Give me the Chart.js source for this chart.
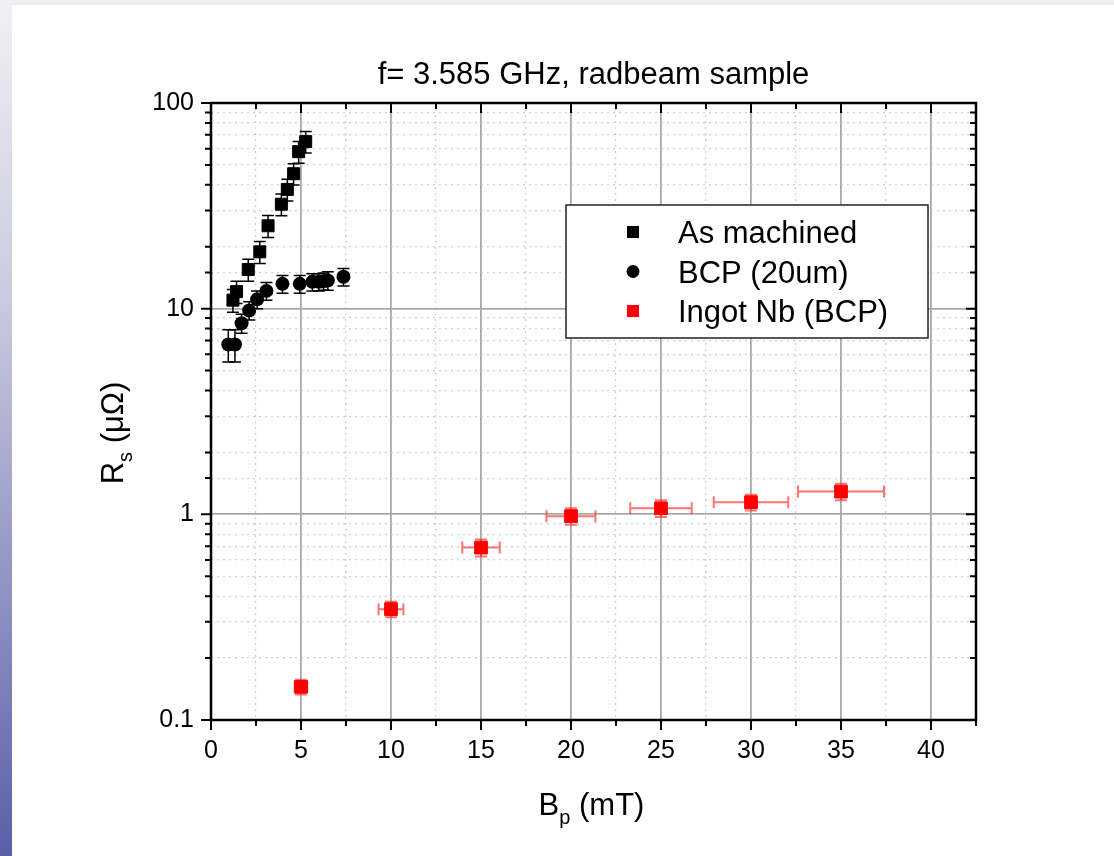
<!DOCTYPE html>
<html lang="en">
<head>
    <meta charset="UTF-8">
    <meta name="viewport" content="width=device-width, initial-scale=1.0">
    <title>Rs vs Bp, radbeam sample</title>
    <script src="https://cdn.jsdelivr.net/npm/chart.js"></script>
    <style>
        html, body { margin: 0; padding: 0; background: #fff; }
        body { width: 1114px; height: 856px; position: relative; overflow: hidden; }
        #topBand { position: absolute; left: 0; top: 0; width: 1114px; height: 5px; background: #eeeff3; }
        #sideBand { position: absolute; left: 0; top: 0; width: 12px; height: 856px;
            background: linear-gradient(to bottom, #f0f0f4 0%, #c9cadf 35%, #5a5fa9 100%); }
        #rsChart { position: absolute; left: 0; top: 0; }
    </style>
</head>
<body>
    <div id="topBand"></div>
    <div id="sideBand"></div>
    <canvas id="rsChart" width="1114" height="856"></canvas>

    <script>
        // values
        const asMachinedX = [1.22, 1.42, 2.07, 2.71, 3.17, 3.91, 4.24, 4.59, 4.87, 5.26];
        const asMachinedY = [11.0, 12.1, 15.5, 18.9, 25.3, 32.2, 38.0, 45.3, 58.0, 64.9];
        const asMachinedYErr = [1.4, 1.5, 1.9, 2.3, 3.1, 3.9, 4.6, 5.4, 7.0, 7.8];

        const bcpX = [0.96, 1.33, 1.70, 2.12, 2.56, 3.08, 3.97, 4.93, 5.63, 5.99, 6.25, 6.49, 7.36];
        const bcpY = [6.7, 6.7, 8.5, 9.8, 11.1, 12.2, 13.2, 13.2, 13.5, 13.5, 13.6, 13.7, 14.3];
        const bcpYErr = [1.2, 1.2, 0.9, 1.0, 1.1, 1.2, 1.3, 1.3, 1.3, 1.3, 1.3, 1.4, 1.4];

        const ingotX = [5, 10, 15, 20, 25, 30, 35];
        const ingotY = [0.145, 0.346, 0.689, 0.98, 1.07, 1.145, 1.29];
        const ingotXErr = [0.35, 0.69, 1.04, 1.36, 1.71, 2.07, 2.39];
        const ingotYErr = [0.012, 0.03, 0.065, 0.09, 0.1, 0.1, 0.12];

        const seriesNames = ['As machined', 'BCP (20um)', 'Ingot Nb (BCP)'];
        const xTickLabels = [0, 5, 10, 15, 20, 25, 30, 35, 40];
        const yTickValues = [0.1, 1, 10, 100];
        const yTickLabels = ['0.1', '1', '10', '100'];

        const FONT = "'Liberation Sans', Arial, sans-serif";

        const isMajorX = v => Math.abs(v / 5 - Math.round(v / 5)) < 1e-9;
        const isMajorY = v => { const l = Math.log10(v); return Math.abs(l - Math.round(l)) < 1e-9; };

        const toPoints = (xs, ys) => xs.map((x, i) => ({ x: x, y: ys[i] }));

        // error bars, drawn behind the markers
        const errorBars = {
            id: 'errorBars',
            beforeDatasetsDraw(chart) {
                const { ctx, scales: { x, y } } = chart;
                chart.data.datasets.forEach(ds => {
                    ctx.save();
                    ctx.strokeStyle = ds.errColor;
                    ctx.lineWidth = ds.errWidth;
                    ds.data.forEach((p, i) => {
                        const px = x.getPixelForValue(p.x);
                        const py = y.getPixelForValue(p.y);
                        ctx.beginPath();
                        if (ds.yErr) {
                            const e = ds.yErr[i];
                            const y1 = y.getPixelForValue(p.y - e), y2 = y.getPixelForValue(p.y + e);
                            ctx.moveTo(px, y1); ctx.lineTo(px, y2);
                            ctx.moveTo(px - 6, y1); ctx.lineTo(px + 6, y1);
                            ctx.moveTo(px - 6, y2); ctx.lineTo(px + 6, y2);
                        }
                        if (ds.xErr) {
                            const e = ds.xErr[i];
                            const x1 = x.getPixelForValue(p.x - e), x2 = x.getPixelForValue(p.x + e);
                            ctx.moveTo(x1, py); ctx.lineTo(x2, py);
                            ctx.moveTo(x1, py - 6); ctx.lineTo(x1, py + 6);
                            ctx.moveTo(x2, py - 6); ctx.lineTo(x2, py + 6);
                        }
                        ctx.stroke();
                    });
                    ctx.restore();
                });
            }
        };

        // frame on all four sides with Origin style ticks
        const frameTicks = {
            id: 'frameTicks',
            afterDatasetsDraw(chart) {
                const { ctx, chartArea: a, scales: { x, y } } = chart;
                ctx.save();
                ctx.strokeStyle = '#000';
                ctx.lineWidth = 2;
                ctx.beginPath();
                x.ticks.forEach(t => {
                    const px = x.getPixelForValue(t.value);
                    const len = isMajorX(t.value) ? 10 : 6;
                    ctx.moveTo(px, a.bottom); ctx.lineTo(px, a.bottom + len);
                    ctx.moveTo(px, a.top); ctx.lineTo(px, a.top + len);
                });
                y.ticks.forEach(t => {
                    const py = y.getPixelForValue(t.value);
                    const len = isMajorY(t.value) ? 10 : 6;
                    ctx.moveTo(a.left - len, py); ctx.lineTo(a.left, py);
                    ctx.moveTo(a.right - len, py); ctx.lineTo(a.right, py);
                });
                ctx.stroke();
                ctx.lineWidth = 2.5;
                ctx.strokeRect(a.left, a.top, a.right - a.left, a.bottom - a.top);
                ctx.restore();
            }
        };

        // axis titles with subscripts
        const axisTitles = {
            id: 'axisTitles',
            afterDraw(chart) {
                const { ctx, chartArea: a } = chart;
                const parts = [['B', 31, 0], ['p', 20, 9], [' (mT)', 31, 0]];
                const partsY = [['R', 31, 0], ['s', 20, 9], [' (\u03bc\u03a9)', 31, 0]];
                const drawParts = (list, cx, baseY) => {
                    let w = 0;
                    list.forEach(p => { ctx.font = p[1] + 'px ' + FONT; w += ctx.measureText(p[0]).width; });
                    let cur = cx - w / 2;
                    list.forEach(p => {
                        ctx.font = p[1] + 'px ' + FONT;
                        ctx.fillText(p[0], cur, baseY + p[2]);
                        cur += ctx.measureText(p[0]).width;
                    });
                };
                ctx.save();
                ctx.fillStyle = '#000';
                ctx.textBaseline = 'alphabetic';
                ctx.textAlign = 'left';
                drawParts(parts, (a.left + a.right) / 2 - 2, 815);
                ctx.translate(123, 433);
                ctx.rotate(-Math.PI / 2);
                drawParts(partsY, 0, 0);
                ctx.restore();
            }
        };

        // legend box inside the plot
        const boxLegend = {
            id: 'boxLegend',
            afterDraw(chart) {
                const ctx = chart.ctx;
                const bx = 566, by = 205, bw = 362, bh = 133;
                ctx.save();
                ctx.fillStyle = '#fff';
                ctx.fillRect(bx, by, bw, bh);
                ctx.strokeStyle = '#222';
                ctx.lineWidth = 1.5;
                ctx.strokeRect(bx, by, bw, bh);
                chart.data.datasets.forEach((ds, i) => {
                    const cy = by + 27 + i * 39.5;
                    ctx.fillStyle = ds.backgroundColor;
                    if (ds.pointStyle === 'circle') {
                        ctx.beginPath();
                        ctx.arc(bx + 67, cy, 6.5, 0, Math.PI * 2);
                        ctx.fill();
                    } else {
                        ctx.fillRect(bx + 61, cy - 6, 12, 12);
                    }
                    ctx.fillStyle = '#000';
                    ctx.font = '31px ' + FONT;
                    ctx.textBaseline = 'alphabetic';
                    ctx.fillText(ds.label, bx + 112, cy + 11);
                });
                ctx.restore();
            }
        };

        const ctx = document.getElementById('rsChart').getContext('2d');
        new Chart(ctx, {
            type: 'scatter',
            data: {
                datasets: [{
                    label: seriesNames[0],
                    data: toPoints(asMachinedX, asMachinedY),
                    yErr: asMachinedYErr,
                    errColor: '#000',
                    errWidth: 1.5,
                    pointStyle: 'rect',
                    pointRadius: 8.5,
                    borderWidth: 1,
                    backgroundColor: '#000',
                    borderColor: '#000'
                }, {
                    label: seriesNames[1],
                    data: toPoints(bcpX, bcpY),
                    yErr: bcpYErr,
                    errColor: '#000',
                    errWidth: 1.5,
                    pointStyle: 'circle',
                    pointRadius: 7,
                    borderWidth: 0,
                    backgroundColor: '#000',
                    borderColor: '#000'
                }, {
                    label: seriesNames[2],
                    data: toPoints(ingotX, ingotY),
                    xErr: ingotXErr,
                    yErr: ingotYErr,
                    errColor: 'rgba(255, 40, 40, 0.65)',
                    errWidth: 2,
                    pointStyle: 'rect',
                    pointRadius: 9,
                    borderWidth: 1,
                    backgroundColor: '#ff0000',
                    borderColor: '#ff0000'
                }]
            },
            options: {
                responsive: false,
                animation: false,
                events: [],
                layout: { padding: { left: 0, right: 138, top: 0, bottom: 0 } },
                plugins: {
                    legend: { display: false },
                    tooltip: { enabled: false },
                    title: {
                        display: true,
                        fullSize: false,
                        text: 'f= 3.585 GHz, radbeam sample',
                        color: '#000',
                        font: { family: FONT, size: 31, weight: 'normal', lineHeight: 1.2 },
                        padding: { top: 57, bottom: 8.8 }
                    }
                },
                scales: {
                    x: {
                        type: 'linear',
                        min: 0,
                        max: 42.5,
                        afterFit(s) { s.height = 136; },
                        grid: {
                            drawTicks: false,
                            color: c => c.tick && isMajorX(c.tick.value) ? '#a8a8a8' : '#cdcdcd',
                            lineWidth: c => c.tick && isMajorX(c.tick.value) ? 1.8 : 1.2
                        },
                        border: {
                            display: false,
                            dash: c => c.tick && !isMajorX(c.tick.value) ? [2, 4] : []
                        },
                        ticks: {
                            stepSize: 2.5,
                            autoSkip: false,
                            maxRotation: 0,
                            padding: 16,
                            color: '#000',
                            font: { family: FONT, size: 25 },
                            callback: v => xTickLabels.includes(v) ? String(v) : ''
                        }
                    },
                    y: {
                        type: 'logarithmic',
                        min: 0.1,
                        max: 100,
                        afterFit(s) { s.width = 211; },
                        grid: {
                            drawTicks: false,
                            color: c => c.tick && isMajorY(c.tick.value) ? '#a8a8a8' : '#cdcdcd',
                            lineWidth: c => c.tick && isMajorY(c.tick.value) ? 1.8 : 1.2
                        },
                        border: {
                            display: false,
                            dash: c => c.tick && !isMajorY(c.tick.value) ? [2, 4] : []
                        },
                        ticks: {
                            autoSkip: false,
                            padding: 17,
                            color: '#000',
                            font: { family: FONT, size: 25 },
                            callback: v => {
                                const idx = yTickValues.findIndex(t => Math.abs(t - v) < t * 1e-6);
                                return idx >= 0 ? yTickLabels[idx] : '';
                            }
                        }
                    }
                }
            },
            plugins: [errorBars, frameTicks, axisTitles, boxLegend]
        });
    </script>
</body>
</html>
